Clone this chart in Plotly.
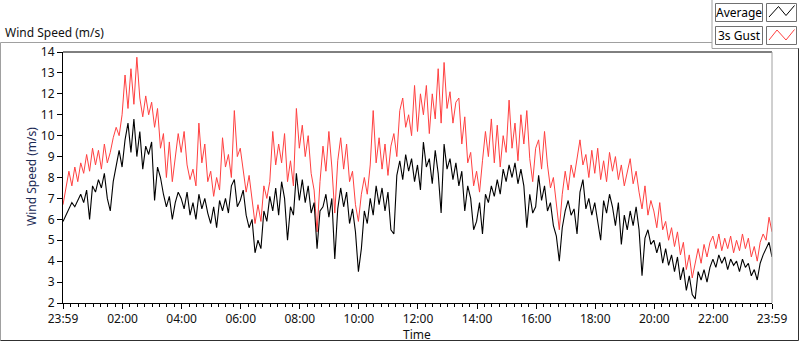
import plotly.graph_objects as go
import pandas as pd

# ---------------- data (6-minute samples) ----------------
start_time = "2024-01-01 23:59"
sample_minutes = 6

gust = [
    6.7, 7.5, 8.3, 7.6, 8.5, 7.8, 8.7, 8.2, 9.1, 8.3, 9.4, 8.6, 9.3, 8.4, 9.6, 8.7, 9.2, 9.9, 10.4, 10.0,
    11.0, 12.9, 11.3, 13.2, 11.5, 13.75, 11.8, 10.9, 11.9, 11.0, 11.6, 10.4, 11.3, 9.4, 10.1, 8.0, 9.7, 7.8, 9.0, 10.1,
    9.2, 10.2, 8.6, 7.9, 8.4, 7.6, 10.6, 8.7, 9.6, 7.8, 8.3, 7.1, 8.0, 7.4, 9.9, 8.5, 9.1, 8.0, 11.2, 9.0,
    9.4, 8.4, 7.3, 8.1, 7.0, 5.8, 6.7, 5.9, 7.6, 7.0, 7.8, 10.2, 8.6, 9.6, 8.7, 10.1, 7.8, 8.8, 7.6, 11.3,
    9.4, 10.5, 9.0, 10.0, 8.2, 7.4, 5.4, 7.8, 9.5, 8.3, 10.2, 8.5, 6.3, 8.8, 9.9, 8.4, 9.6, 7.8, 8.3, 6.7,
    5.9, 7.2, 8.0, 7.2, 8.6, 11.2, 8.7, 9.9, 8.4, 9.6, 8.1, 9.5, 10.1, 9.0, 11.2, 11.8, 10.4, 11.0, 10.0, 12.4,
    10.2, 12.0, 11.0, 12.4, 10.1, 12.0, 10.8, 13.2, 10.6, 13.5, 11.3, 12.1, 10.6, 11.6, 11.8, 9.6, 10.9, 8.7, 9.2, 7.6,
    8.3, 7.3, 8.8, 10.2, 9.0, 10.8, 8.7, 10.5, 8.5, 10.0, 9.2, 11.7, 9.4, 10.6, 8.8, 11.0, 9.6, 11.2, 8.9, 7.8,
    9.4, 9.8, 8.4, 10.2, 8.6, 7.5, 8.0, 6.6, 5.5, 7.2, 8.3, 7.4, 8.6, 8.0, 9.0, 9.8, 8.6, 9.1, 8.0, 9.3,
    8.2, 9.4, 7.9, 8.8, 7.8, 9.2, 8.3, 9.0, 7.9, 8.6, 7.6, 8.2, 8.9, 7.7, 8.3, 7.3, 6.5, 7.6, 6.2, 6.9,
    6.4, 5.6, 6.8, 5.5, 5.9, 5.0, 5.6, 4.7, 5.4, 4.3, 4.9, 3.6, 4.3, 3.2, 3.9, 4.6, 3.9, 4.8, 4.2, 4.9,
    5.2, 4.6, 5.3, 4.5, 5.1, 4.6, 5.2, 4.4, 5.0, 4.5, 5.3, 4.6, 5.1, 4.2, 4.7, 4.0, 4.9, 5.3, 5.0, 6.1,
    5.4,
]

average = [
    5.9, 6.2, 6.5, 6.8, 6.6, 6.9, 7.2, 6.8, 7.4, 6.0, 7.6, 7.3, 7.9, 7.5, 8.2, 7.0, 6.4, 7.8, 8.6, 9.3,
    8.5, 9.8, 10.6, 9.2, 10.8, 9.0, 10.2, 8.4, 9.5, 9.1, 9.7, 6.9, 8.5, 8.0, 7.2, 6.6, 7.1, 6.0, 6.8, 7.3,
    7.0, 6.5, 7.3, 6.2, 6.8, 6.0, 7.2, 6.5, 7.0, 6.3, 5.8, 6.6, 5.6, 6.9, 6.4, 7.0, 6.3, 7.6, 7.9, 6.6,
    6.9, 7.4, 6.2, 5.6, 6.0, 4.4, 5.0, 4.6, 6.4, 5.9, 7.1, 6.4, 7.5, 6.2, 7.8, 7.0, 5.0, 6.6, 6.2, 8.2,
    6.9, 7.9, 6.8, 7.6, 6.3, 6.8, 4.6, 6.4, 6.6, 7.2, 6.1, 7.0, 4.1, 6.5, 7.5, 6.6, 7.3, 5.8, 6.5, 5.4,
    3.5, 4.6, 6.4, 5.8, 7.0, 6.2, 7.6, 6.7, 7.5, 6.4, 7.3, 5.5, 5.3, 8.1, 8.8, 7.9, 9.1, 8.3, 8.9, 7.8,
    8.6, 7.4, 9.7, 8.5, 8.9, 7.7, 9.3, 8.2, 6.3, 9.6, 8.4, 8.9, 7.9, 8.7, 7.6, 8.3, 6.4, 7.6, 7.0, 5.5,
    5.9, 6.8, 5.3, 7.2, 6.8, 7.6, 7.1, 7.9, 7.2, 8.4, 7.8, 8.6, 8.0, 8.7, 7.7, 8.4, 7.6, 5.6, 7.2, 6.3,
    6.6, 8.1, 6.9, 7.6, 6.4, 6.8, 5.7, 5.2, 4.0, 5.6, 6.4, 6.9, 6.2, 6.5, 5.3, 7.3, 7.9, 6.5, 7.0, 6.2,
    6.8, 5.8, 5.0, 6.9, 6.3, 7.2, 6.6, 5.7, 6.8, 4.8, 6.2, 5.5, 6.4, 5.7, 6.6, 5.5, 3.3, 5.1, 5.5, 4.8,
    5.0, 4.4, 4.9, 3.9, 4.6, 3.8, 4.3, 3.5, 4.2, 3.1, 3.7, 2.6, 3.3, 2.4, 2.2, 3.5, 3.1, 3.6, 3.0, 3.7,
    4.1, 3.7, 4.3, 3.9, 4.2, 3.6, 4.1, 3.8, 4.0, 3.5, 4.1, 3.7, 3.9, 3.3, 3.6, 3.1, 3.9, 4.3, 4.6, 4.9,
    4.2,
]

tick_times = ["2024-01-01 23:59", "2024-01-02 02:00", "2024-01-02 04:00", "2024-01-02 06:00",
              "2024-01-02 08:00", "2024-01-02 10:00", "2024-01-02 12:00", "2024-01-02 14:00",
              "2024-01-02 16:00", "2024-01-02 18:00", "2024-01-02 20:00", "2024-01-02 22:00",
              "2024-01-02 23:59"]
tick_labels = ["23:59", "02:00", "04:00", "06:00", "08:00", "10:00", "12:00", "14:00",
               "16:00", "18:00", "20:00", "22:00", "23:59"]
y_ticks = list(range(2, 15))

times = pd.date_range(start_time, periods=len(gust), freq=f"{sample_minutes}min")
minor_times = pd.date_range("2024-01-02 00:15", "2024-01-02 23:45", freq="15min")

# ---------------- figure ----------------
W, H = 800, 342
ML, MR, MT, MB = 63, 28, 52, 39
PW, PH = W - ML - MR, H - MT - MB


def px(x):
    return (x - ML) / PW


def py(y):
    return (H - MB - y) / PH


FONT = "Noto Sans"

fig = go.Figure()
fig.add_trace(go.Scatter(x=times, y=gust, mode="lines", name="3s Gust",
                         line=dict(color="#ff4040", width=1), showlegend=False))
fig.add_trace(go.Scatter(x=times, y=average, mode="lines", name="Average",
                         line=dict(color="#000000", width=1.1), showlegend=False))

fig.update_layout(
    width=W, height=H,
    margin=dict(l=ML, r=MR, t=MT, b=MB, pad=0),
    paper_bgcolor="white", plot_bgcolor="white",
    font=dict(family=FONT, size=12, color="#111111"),
    showlegend=False,
)
fig.update_xaxes(
    type="date", range=[times[0], times[-1]],
    tickmode="array", tickvals=tick_times, ticktext=tick_labels,
    ticks="outside", ticklen=5, tickcolor="#000000", tickwidth=1,
    showgrid=False, zeroline=False,
    showline=True, linecolor="#000000", linewidth=1,
    tickfont=dict(family=FONT, size=12, color="#111111"),
    minor=dict(tickvals=list(minor_times), ticks="outside", ticklen=3,
               tickcolor="#000000", showgrid=False),
)
fig.update_yaxes(
    range=[2, 14], tickmode="array", tickvals=y_ticks,
    ticks="outside", ticklen=5, tickcolor="#000000", tickwidth=1,
    showgrid=False, zeroline=False,
    showline=True, linecolor="#000000", linewidth=1,
    tickfont=dict(family=FONT, size=12, color="#111111"),
)

shapes = []
# plot frame top (dark) and right (gray)
shapes.append(dict(type="line", xref="paper", yref="paper", x0=0, x1=1, y0=1, y1=1,
                   line=dict(color="#000000", width=1)))
shapes.append(dict(type="line", xref="paper", yref="paper", x0=1, x1=1, y0=0, y1=1,
                   line=dict(color="#a0a0a0", width=1)))
# outer panel frame
GRAY = "#a0a0a0"
DARK = "#303030"
shapes.append(dict(type="line", xref="paper", yref="paper", x0=px(0.5), x1=px(712), y0=py(42.5), y1=py(42.5),
                   line=dict(color=GRAY, width=1)))
shapes.append(dict(type="line", xref="paper", yref="paper", x0=px(0.5), x1=px(0.5), y0=py(42.5), y1=py(340.5),
                   line=dict(color=GRAY, width=1)))
shapes.append(dict(type="line", xref="paper", yref="paper", x0=px(712), x1=px(712), y0=py(0), y1=py(48.5),
                   line=dict(color=GRAY, width=1)))
shapes.append(dict(type="line", xref="paper", yref="paper", x0=px(712), x1=px(799), y0=py(48.5), y1=py(48.5),
                   line=dict(color=GRAY, width=1)))
shapes.append(dict(type="line", xref="paper", yref="paper", x0=px(798.5), x1=px(798.5), y0=py(48.5), y1=py(340.5),
                   line=dict(color=DARK, width=1)))
shapes.append(dict(type="line", xref="paper", yref="paper", x0=px(0.5), x1=px(798.5), y0=py(340.5), y1=py(340.5),
                   line=dict(color=DARK, width=1)))

# legend boxes
for (y0, y1) in [(3.5, 21.5), (26.5, 44.5)]:
    shapes.append(dict(type="rect", xref="paper", yref="paper", x0=px(715.5), x1=px(762.5),
                       y0=py(y1), y1=py(y0), line=dict(color="#707070", width=1), fillcolor="white"))
    shapes.append(dict(type="rect", xref="paper", yref="paper", x0=px(766.5), x1=px(796.5),
                       y0=py(y1), y1=py(y0), line=dict(color="#707070", width=1), fillcolor="white"))


def zig(points):
    return "M " + " L ".join(f"{px(x)},{py(y)}" for x, y in points)


shapes.append(dict(type="path", xref="paper", yref="paper",
                   path=zig([(769, 17), (778.5, 6.5), (786, 15.5), (794.5, 5.5)]),
                   line=dict(color="#000000", width=1)))
shapes.append(dict(type="path", xref="paper", yref="paper",
                   path=zig([(769, 40), (777, 30), (786, 40), (794.5, 29.5)]),
                   line=dict(color="#ff4040", width=1)))
fig.update_layout(shapes=shapes)

annotations = [
    dict(text="Wind Speed (m/s)", xref="paper", yref="paper", x=px(3), y=py(32),
         xanchor="left", yanchor="middle", showarrow=False,
         font=dict(family=FONT, size=12, color="#111111")),
    dict(text="Wind Speed (m/s)", xref="paper", yref="paper", x=px(31), y=py(177),
         xanchor="center", yanchor="middle", textangle=-90, showarrow=False,
         font=dict(family=FONT, size=12, color="#1c2a55")),
    dict(text="Time", xref="paper", yref="paper", x=px(417), y=py(334),
         xanchor="center", yanchor="middle", showarrow=False,
         font=dict(family=FONT, size=12, color="#111111")),
    dict(text="Average", xref="paper", yref="paper", x=px(739), y=py(12.5),
         xanchor="center", yanchor="middle", showarrow=False,
         font=dict(family=FONT, size=12, color="#000000")),
    dict(text="3s Gust", xref="paper", yref="paper", x=px(739), y=py(35.5),
         xanchor="center", yanchor="middle", showarrow=False,
         font=dict(family=FONT, size=12, color="#000000")),
]
fig.update_layout(annotations=annotations)

fig.write_html("out.html", config={"displayModeBar": False},
               post_script="document.body.style.margin='0';document.body.style.overflow='hidden';")
